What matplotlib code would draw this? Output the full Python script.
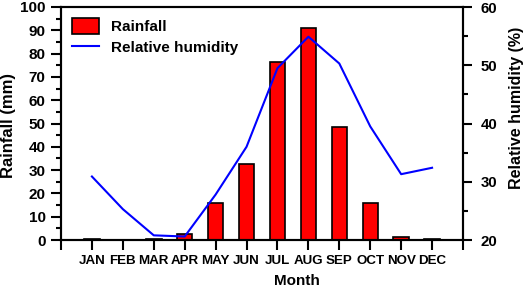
import matplotlib
matplotlib.use("Agg")
import matplotlib.pyplot as plt
from matplotlib.ticker import MultipleLocator
import numpy as np

months = ["JAN", "FEB", "MAR", "APR", "MAY", "JUN", "JUL", "AUG", "SEP", "OCT", "NOV", "DEC"]
rainfall = [0.3, 0.0, 0.5, 2.4, 15.8, 32.7, 76.4, 90.9, 48.6, 16.0, 1.3, 0.4]
humidity = [30.9, 25.3, 20.8, 20.6, 27.8, 36.0, 49.5, 54.9, 50.3, 39.5, 31.3, 32.4]

plt.rcParams['font.family'] = ['Liberation Sans', 'DejaVu Sans']
plt.rcParams['font.weight'] = 'bold'

fig = plt.figure(figsize=(5.26, 2.88), dpi=100)
ax = fig.add_axes([61/526, 1-240/288, (463-61)/526, (240-7)/288])
ax2 = ax.twinx()

x = np.arange(1, len(months) + 1)
bars = ax.bar(x, rainfall, width=0.5, color='#ff0000', edgecolor='black', linewidth=1.2, label='Rainfall', zorder=2)
line, = ax2.plot(x, humidity, color='#0000ff', linewidth=1.5, label='Relative humidity', zorder=3)

ax.set_xlim(0, 13)
ax.set_ylim(0, 100)
ax2.set_ylim(20, 60)
ax.set_xticks(np.arange(0, 14))
ax.set_xticklabels([''] + months + [''])
ax.yaxis.set_major_locator(MultipleLocator(10))
ax.yaxis.set_minor_locator(MultipleLocator(5))
ax2.yaxis.set_major_locator(MultipleLocator(10))
ax2.yaxis.set_minor_locator(MultipleLocator(5))

for a in (ax, ax2):
    for s in a.spines.values():
        s.set_linewidth(1.5)

ax.tick_params(axis='x', direction='out', length=7, width=1.5, pad=4, labelsize=9.6)
ax.tick_params(axis='y', which='major', direction='out', length=7, width=1.5, pad=4, labelsize=11)
ax.tick_params(axis='y', which='minor', direction='out', length=3.3, width=1.5)
ax2.tick_params(axis='y', which='major', direction='out', length=6.5, width=1.5, pad=6, labelsize=10.8)
ax2.tick_params(axis='y', which='minor', direction='out', length=3.5, width=1.5)

for lab in ax.get_xticklabels() + ax.get_yticklabels() + ax2.get_yticklabels():
    lab.set_fontweight('bold')

ax.set_xlabel('Month', fontsize=11, fontweight='bold')
ax.xaxis.set_label_coords((297-61)/402, -0.145)
ax.set_ylabel('Rainfall (mm)', fontsize=12, fontweight='bold')
ax.yaxis.set_label_coords(-0.112, 0.49)
ax2.set_ylabel('Relative humidity (%)', fontsize=11.5, fontweight='bold')
ax2.yaxis.set_label_coords((509-463)/402 + 1.0, 0.565)

leg = ax2.legend([bars, line], ['Rainfall', 'Relative humidity'], loc='upper left', frameon=False,
                 prop={'weight': 'bold', 'size': 11}, handlelength=1.8, handleheight=1.3,
                 borderaxespad=0.3, labelspacing=0.3, handletextpad=0.8)

fig.savefig('out.png', dpi=100)
